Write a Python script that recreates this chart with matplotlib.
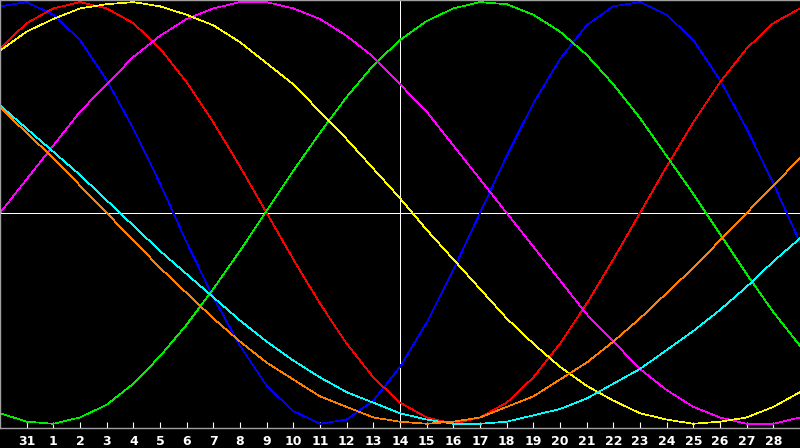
import numpy as np
import matplotlib
matplotlib.use('Agg')
import matplotlib.pyplot as plt

# day labels: the row starts at the 30th of last month and ends on the 29th
days = ['30', '31'] + [str(d) for d in range(1, 30)]
tick_days = ['31'] + [str(d) for d in range(1, 29)]
today = '14'

# curve values in percent, one per day
blue = [98, 100, 94, 82, 63, 40, 14, -14, -40, -63, -82, -94, -100, -98, -89, -73,
        -52, -27, 0, 27, 52, 73, 89, 98, 100, 94, 82, 63, 40, 14, -14]
red = [78, 90, 97, 100, 97, 90, 78, 62, 43, 22, 0, -22, -43, -62, -78, -90,
       -97, -100, -97, -90, -78, -62, -43, -22, 0, 22, 43, 62, 78, 90, 97]
green = [-95, -99, -100, -97, -91, -81, -68, -53, -36, -18, 1, 20, 38, 55, 70, 82,
         91, 97, 100, 99, 94, 86, 75, 61, 45, 27, 9, -10, -29, -47, -63]
magenta = [0, 16, 32, 48, 61, 74, 84, 92, 97, 100, 100, 97, 92, 84, 74, 61,
           48, 32, 16, 0, -16, -32, -48, -61, -74, -84, -92, -97, -100, -100, -97]
yellow = [77, 86, 92, 97, 99, 100, 98, 94, 89, 81, 71, 61, 48, 35, 21, 7,
          -8, -22, -36, -50, -62, -73, -82, -89, -95, -98, -100, -99, -97, -92, -85]
cyan = [51, 40, 29, 18, 6, -6, -18, -29, -40, -51, -61, -70, -78, -85, -90, -95,
        -98, -100, -100, -99, -96, -93, -88, -81, -74, -65, -56, -46, -35, -23, -12]
orange = [50, 38, 26, 13, 0, -13, -26, -38, -50, -61, -71, -79, -87, -92, -97, -99,
          -100, -99, -97, -92, -87, -79, -71, -61, -50, -38, -26, -13, 0, 13, 26]

series = [
    (blue, '#0000ff'),
    (red, '#ff0000'),
    (green, '#00ee00'),
    (magenta, '#ff00ff'),
    (yellow, '#ffff00'),
    (cyan, '#00ffff'),
    (orange, '#ff8000'),
]

x = np.arange(len(days)) - 1  # index 0 is the 31st

fig = plt.figure(figsize=(8, 4.48), dpi=100, facecolor='black')
ax = fig.add_axes([0, 20 / 448, 1, 428 / 448])
ax.set_facecolor('black')

ax.axhline(0, color='white', lw=0.6, antialiased=False, zorder=1)
ax.axvline(days.index(today) - 1, color='white', lw=0.6, antialiased=False, zorder=1)

for vals, col in series:
    ax.plot(x, vals, color=col, lw=0.5, antialiased=False, zorder=2)

ax.set_xlim(-1, 29)
ax.set_ylim(-102, 101)

tick_pos = [days.index(t) - 1 for t in tick_days]
ax.set_xticks(tick_pos)
ax.set_xticklabels(tick_days, color='white', fontsize=9, fontweight='bold',
                   family='DejaVu Sans')
ax.tick_params(axis='x', direction='in', length=4, width=0.8, color='white', pad=5)
ax.set_yticks([])

for side in ['left', 'top', 'bottom']:
    ax.spines[side].set_color('#a0a0a0')
    ax.spines[side].set_linewidth(1.0)
ax.spines['right'].set_visible(False)

fig.savefig('out.png', dpi=100, facecolor='black')
